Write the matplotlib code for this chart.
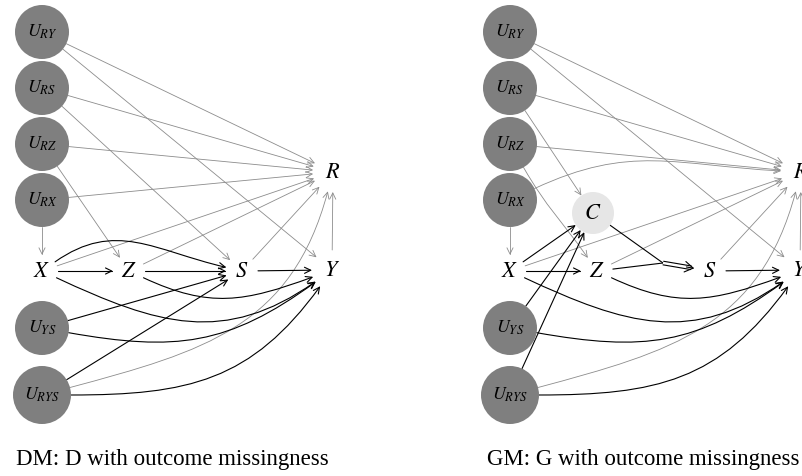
import matplotlib.pyplot as plt
import numpy as np
from matplotlib.patches import Circle, FancyArrowPatch
from matplotlib.path import Path

plt.rcParams['mathtext.fontset'] = 'stix'

# node layout in pixels for the left graph; the right graph uses the same layout moved right
node_pos = {
    'URY': (42, 32), 'URS': (42, 88), 'URZ': (42, 144), 'URX': (42, 200),
    'X': (42, 271), 'Z': (129, 271), 'S': (242, 271), 'Y': (332, 270),
    'R': (333, 172), 'UYS': (42, 328), 'URYS': (42, 395),
    'C': (125, 213), 'J': (195, 263),
}
node_labels = {
    'URY': '$U_{RY}$', 'URS': '$U_{RS}$', 'URZ': '$U_{RZ}$', 'URX': '$U_{RX}$',
    'X': '$X$', 'Z': '$Z$', 'S': '$S$', 'Y': '$Y$', 'R': '$R$',
    'UYS': '$U_{YS}$', 'URYS': '$U_{RYS}$', 'C': '$C$', 'J': '',
}
latent_nodes = ['URY', 'URS', 'URZ', 'URX', 'UYS', 'URYS']
gm_shift = 468

# edges: (from, to) straight, or (from, to, out_angle, in_angle) curved
dm_gray = [('URY', 'R'), ('URY', 'Y'), ('URS', 'R'), ('URS', 'S'), ('URZ', 'R'),
           ('URZ', 'Z'), ('URX', 'R'), ('URX', 'X'), ('X', 'R'), ('Z', 'R'),
           ('S', 'R'), ('Y', 'R'), ('URYS', 'R', 15, 255)]
dm_black = [('X', 'Z'), ('Z', 'S'), ('S', 'Y'), ('X', 'S', 35, 167),
            ('X', 'Y', -25, 215), ('Z', 'Y', -25, 200), ('UYS', 'S'),
            ('UYS', 'Y', -10, 216), ('URYS', 'S'), ('URYS', 'Y', 0, 234)]

gm_gray = [('URY', 'R'), ('URY', 'Y'), ('URS', 'R'), ('URS', 'C'), ('URZ', 'R'),
           ('URZ', 'Z', -60, 125), ('URX', 'R', 25, 177), ('URX', 'X'), ('X', 'R'),
           ('Z', 'R'), ('S', 'R'), ('Y', 'R'), ('URYS', 'R', 15, 255)]
gm_black = [('X', 'C'), ('X', 'Z'), ('Z', 'J'), ('C', 'J'), ('S', 'Y'),
            ('X', 'Y', -25, 215), ('Z', 'Y', -25, 200), ('UYS', 'C'), ('URYS', 'C'),
            ('UYS', 'Y', -10, 216), ('URYS', 'Y', 0, 234)]
gm_double = [('J', 'S')]

captions = ['DM: D with outcome missingness', 'GM: G with outcome missingness']

GRAY = '#8c8c8c'


def radius(name):
    if name in ('URYS',):
        return 29
    if name in latent_nodes:
        return 27
    if name == 'C':
        return 21
    if name == 'J':
        return 0
    if name in ('Y', 'R'):
        return 20
    return 16


def direction(a):
    # tikz style angle, y axis is flipped
    a = np.radians(a)
    return np.array([np.cos(a), -np.sin(a)])


def edge_path(e, shift):
    a, b = e[0], e[1]
    pa = np.array(node_pos[a], float) + [shift, 0]
    pb = np.array(node_pos[b], float) + [shift, 0]
    if len(e) == 2:
        u = (pb - pa) / np.linalg.norm(pb - pa)
        p0 = pa + radius(a) * u
        p3 = pb - radius(b) * u
        return Path([p0, p3], [Path.MOVETO, Path.LINETO])
    p0 = pa + radius(a) * direction(e[2])
    p3 = pb + radius(b) * direction(e[3])
    d = 0.3915 * np.linalg.norm(p3 - p0) * 1.1
    c1 = p0 + d * direction(e[2])
    c2 = p3 + d * direction(e[3])
    return Path([p0, c1, c2, p3], [Path.MOVETO, Path.CURVE4, Path.CURVE4, Path.CURVE4])


def draw_edge(ax, e, shift, color, lw):
    style = '-' if e[1] == 'J' else '->,head_length=4.5,head_width=2.2'
    ax.add_patch(FancyArrowPatch(path=edge_path(e, shift), arrowstyle=style,
                                 color=color, lw=lw, zorder=1))


def draw_double(ax, e, shift):
    path = edge_path(e, shift)
    p0, p3 = path.vertices[0], path.vertices[-1]
    u = (p3 - p0) / np.linalg.norm(p3 - p0)
    q = p3 - 3 * u
    ax.plot([p0[0], q[0]], [p0[1], q[1]], color='black', lw=3.4, solid_capstyle='butt', zorder=1)
    ax.plot([p0[0], q[0]], [p0[1], q[1]], color='white', lw=1.8, solid_capstyle='butt', zorder=1)
    ax.add_patch(FancyArrowPatch(p3 - 8 * u, p3, arrowstyle='->,head_length=6,head_width=3.8',
                                 color='black', lw=0.8, shrinkA=0, shrinkB=0, zorder=1))


def draw_panel(ax, shift, gray, black, double, extra):
    for e in gray:
        draw_edge(ax, e, shift, GRAY, 0.6)
    for e in black:
        draw_edge(ax, e, shift, 'black', 0.8)
    for e in double:
        draw_double(ax, e, shift)
    names = ['URY', 'URS', 'URZ', 'URX', 'X', 'Z', 'S', 'Y', 'R', 'UYS', 'URYS'] + extra
    for n in names:
        x, y = node_pos[n]
        x += shift
        if n in latent_nodes:
            ax.add_patch(Circle((x, y), radius(n), fc='#7f7f7f', ec='none', zorder=2))
            ax.text(x, y, node_labels[n], fontsize=13, ha='center', va='center', zorder=3)
        elif n == 'C':
            ax.add_patch(Circle((x, y), radius(n), fc='#e6e6e6', ec='none', zorder=2))
            ax.text(x, y, node_labels[n], fontsize=16, ha='center', va='center', zorder=3)
        elif n != 'J':
            ax.text(x, y, node_labels[n], fontsize=16, ha='center', va='center', zorder=3)


fig = plt.figure(figsize=(8.03, 4.76), dpi=100)
ax = fig.add_axes([0, 0, 1, 1])
ax.set_xlim(0, 803)
ax.set_ylim(476, 0)
ax.axis('off')

draw_panel(ax, 0, dm_gray, dm_black, [], [])
draw_panel(ax, gm_shift, gm_gray, gm_black, gm_double, ['C'])

ax.text(172, 460, captions[0], fontsize=16.5, family='Liberation Serif', ha='center', va='center')
ax.text(643, 460, captions[1], fontsize=16.5, family='Liberation Serif', ha='center', va='center')

fig.savefig('out.png', dpi=100)
